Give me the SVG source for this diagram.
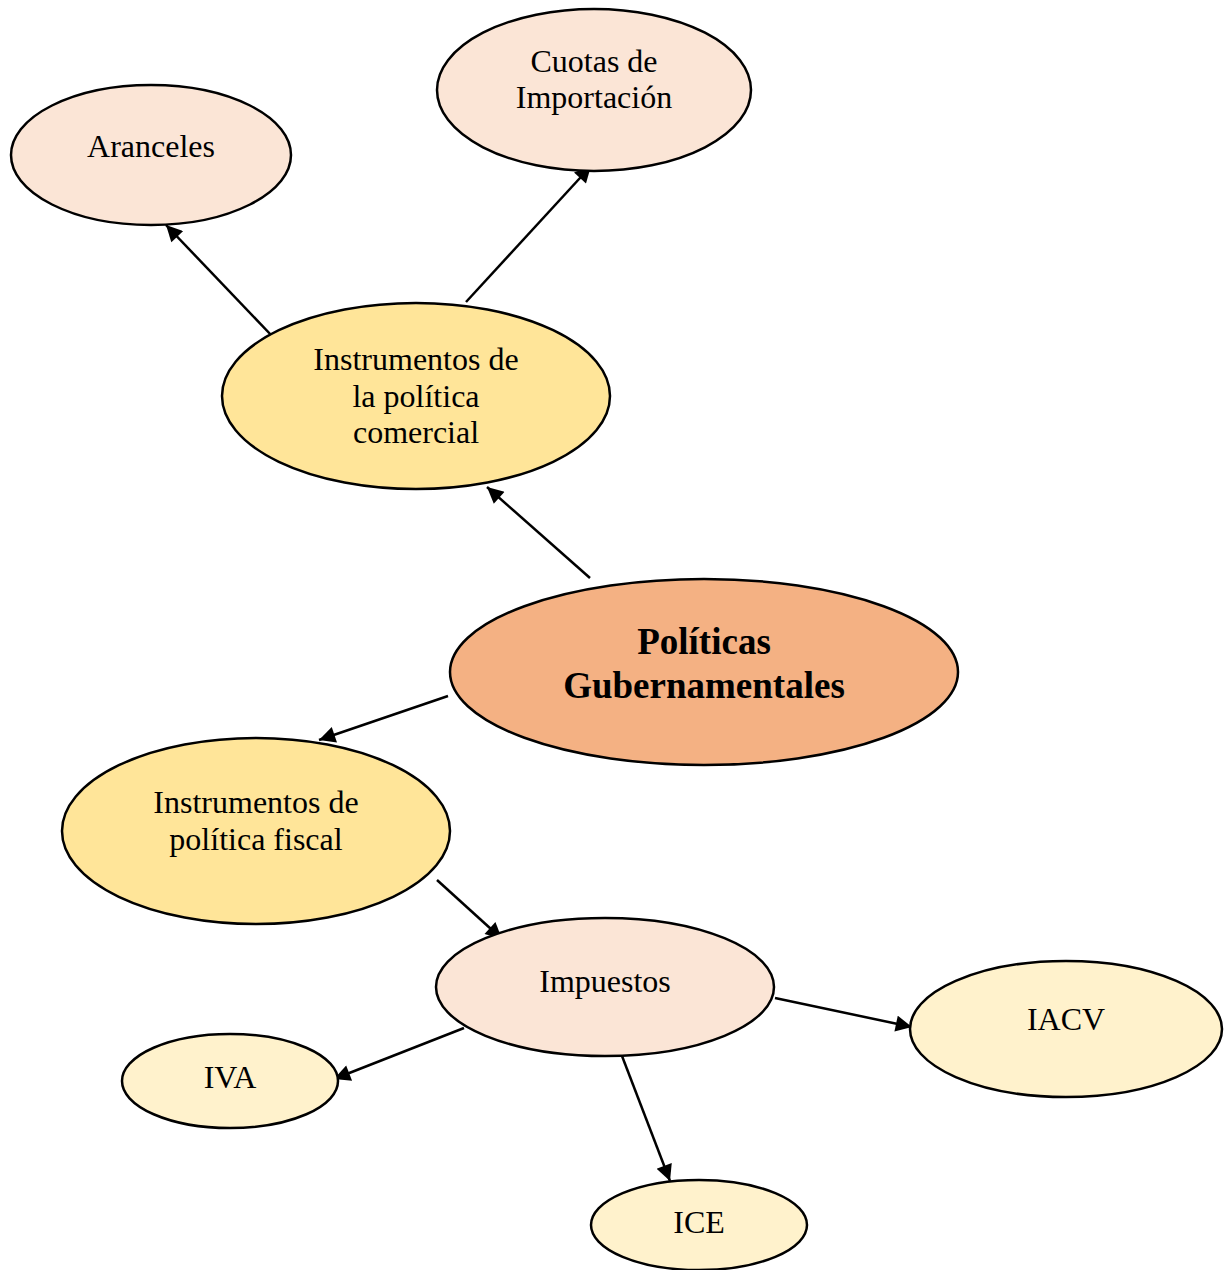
<svg xmlns="http://www.w3.org/2000/svg" width="1224" height="1270" viewBox="0 0 1224 1270">
<style>
ellipse{stroke:#000;stroke-width:2.5}
.pk{fill:#FBE5D6}.yl{fill:#FFE599}.lt{fill:#FFF2CC}.or{fill:#F4B183}
text{font-family:"Liberation Serif","Times New Roman",serif;font-size:32px;fill:#000;text-anchor:middle}
.b{font-weight:bold;font-size:37px}
#edges line{stroke:#000;stroke-width:2.5;marker-end:url(#ah)}
</style>
<defs>
<marker id="ah" viewBox="0 0 10 10" refX="10" refY="5" markerWidth="7.5" markerHeight="6.5" markerUnits="strokeWidth" orient="auto">
<path d="M0,0L10,5L0,10z" fill="#000"/>
</marker>
</defs>
<rect width="1224" height="1270" fill="#fff"/>
<g id="edges">
<line x1="273" y1="337" x2="166" y2="225"/>
<line x1="466" y1="302" x2="591" y2="166"/>
<line x1="590" y1="578" x2="487" y2="487"/>
<line x1="448" y1="696" x2="319" y2="740"/>
<line x1="437" y1="880" x2="502" y2="939"/>
<line x1="775" y1="998" x2="912" y2="1027"/>
<line x1="464" y1="1028" x2="334" y2="1079"/>
<line x1="622" y1="1056" x2="670" y2="1181"/>
</g>
<g id="aranceles"><ellipse class="pk" cx="151" cy="155" rx="140" ry="70"/><text x="151" y="157">Aranceles</text></g>
<g id="cuotas"><ellipse class="pk" cx="594" cy="90" rx="157" ry="81"/><text x="594" y="72">Cuotas de</text><text x="594" y="108">Importación</text></g>
<g id="comercial"><ellipse class="yl" cx="416" cy="396" rx="194" ry="93"/><text x="416" y="370">Instrumentos de</text><text x="416" y="407">la política</text><text x="416" y="443">comercial</text></g>
<g id="politicas"><ellipse class="or" cx="704" cy="672" rx="254" ry="93"/><text class="b" x="704" y="654">Políticas</text><text class="b" x="704" y="698">Gubernamentales</text></g>
<g id="fiscal"><ellipse class="yl" cx="256" cy="831" rx="194" ry="93"/><text x="256" y="813">Instrumentos de</text><text x="256" y="850">política fiscal</text></g>
<g id="impuestos"><ellipse class="pk" cx="605" cy="987" rx="169" ry="69"/><text x="605" y="992">Impuestos</text></g>
<g id="iva"><ellipse class="lt" cx="230" cy="1081" rx="108" ry="47"/><text x="230" y="1088">IVA</text></g>
<g id="iacv"><ellipse class="lt" cx="1066" cy="1029" rx="156" ry="68"/><text x="1066" y="1030">IACV</text></g>
<g id="ice"><ellipse class="lt" cx="699" cy="1225" rx="108" ry="45"/><text x="699" y="1233">ICE</text></g>
</svg>
